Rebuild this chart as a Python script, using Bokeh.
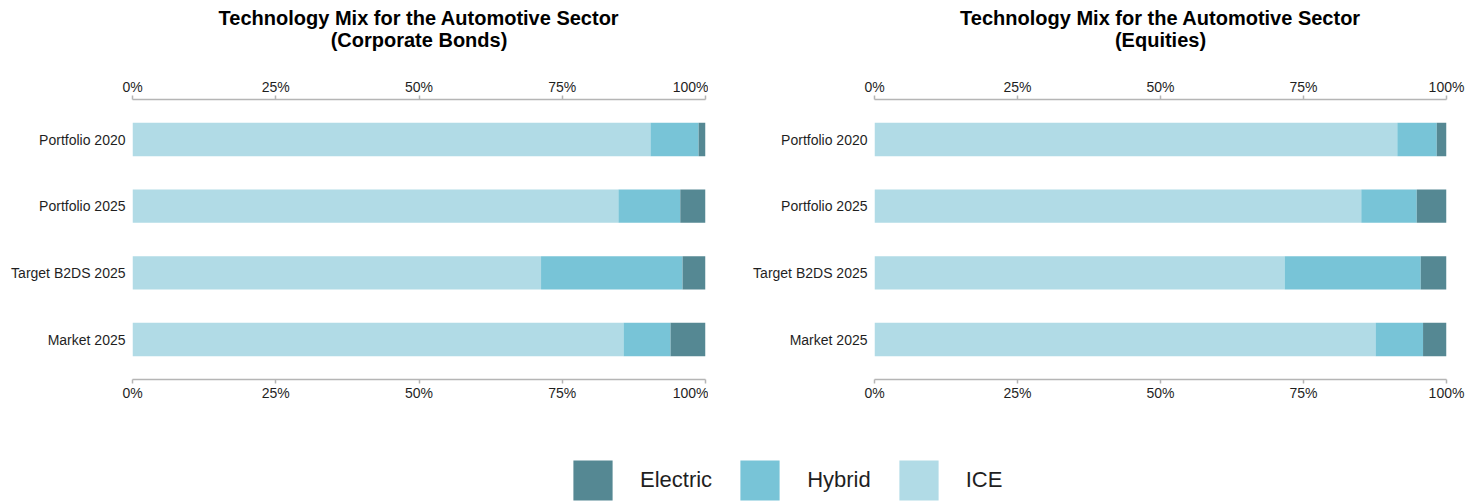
from bokeh.plotting import figure
from bokeh.models import (Range1d, FixedTicker, PrintfTickFormatter, LinearAxis,
                          Legend, LegendItem, ColumnDataSource, Label)
from bokeh.layouts import column, row
from bokeh.embed import file_html
from bokeh.resources import INLINE

# ---------------- data ----------------
categories = ["Portfolio 2020", "Portfolio 2025", "Target B2DS 2025", "Market 2025"]
technologies = ["ICE", "Hybrid", "Electric"]
legend_order = ["Electric", "Hybrid", "ICE"]
x_ticks = [0, 25, 50, 75, 100]

bonds_ice = [90.4, 84.8, 71.3, 85.7]
bonds_hybrid = [8.4, 10.8, 24.7, 8.2]
bonds_electric = [1.2, 4.4, 4.0, 6.1]

equity_ice = [91.4, 85.1, 71.7, 87.6]
equity_hybrid = [6.9, 9.7, 23.8, 8.3]
equity_electric = [1.7, 5.2, 4.5, 4.1]

main_title = "Technology Mix for the Automotive Sector"
subtitles = ["(Corporate Bonds)", "(Equities)"]

colors = {"ICE": "#b1dbe6", "Hybrid": "#78c4d7", "Electric": "#558893"}

FONT = "Liberation Sans"
TEXT = "#1f1f1f"
AXIS = "#b5b5b5"
TOTAL_W = 1473
TITLE_H = 70


def style_x_axis(ax):
    ax.ticker = FixedTicker(ticks=x_ticks)
    ax.formatter = PrintfTickFormatter(format="%d%%")
    ax.axis_line_color = AXIS
    ax.axis_line_width = 1.5
    ax.major_tick_line_color = AXIS
    ax.major_tick_line_width = 1.5
    ax.major_tick_out = 4
    ax.major_tick_in = 0
    ax.minor_tick_line_color = None
    ax.major_label_text_font = FONT
    ax.major_label_text_font_size = "14px"
    ax.major_label_text_color = TEXT
    ax.major_label_standoff = 1


def make_fig(ice, hybrid, electric, width, bl, br):
    src = ColumnDataSource(dict(y=list(range(len(categories))), cat=categories,
                                ICE=ice, Hybrid=hybrid, Electric=electric))
    p = figure(width=width, height=430 - TITLE_H, output_backend="svg", toolbar_location=None,
               x_range=Range1d(0, 100), y_range=Range1d(3.6, -0.6),
               x_axis_location="above",
               min_border_left=bl, min_border_right=br,
               min_border_top=99 - TITLE_H, min_border_bottom=51)
    p.hbar_stack(technologies, y="y", height=0.5, source=src,
                 color=[colors[t] for t in technologies], line_width=0)
    p.add_layout(LinearAxis(), "below")
    for ax in p.xaxis:
        style_x_axis(ax)
    ya = p.yaxis[0]
    ya.ticker = FixedTicker(ticks=list(range(len(categories))))
    ya.major_label_overrides = {i: c for i, c in enumerate(categories)}
    ya.axis_line_color = None
    ya.major_tick_line_color = None
    ya.minor_tick_line_color = None
    ya.major_tick_out = 0
    ya.major_tick_in = 0
    ya.major_label_standoff = 7
    ya.major_label_text_font = FONT
    ya.major_label_text_font_size = "14px"
    ya.major_label_text_color = TEXT
    p.grid.visible = False
    p.outline_line_color = None
    return p


f1 = make_fig(bonds_ice, bonds_hybrid, bonds_electric, 708, 132, 3)
f2 = make_fig(equity_ice, equity_hybrid, equity_electric, 765, 166, 27)

# title strip (pixel-space ranges)
tf = figure(width=TOTAL_W, height=TITLE_H, output_backend="svg", toolbar_location=None,
            x_range=Range1d(0, TOTAL_W), y_range=Range1d(TITLE_H, 0),
            x_axis_location=None, y_axis_location=None, min_border=0)
tf.grid.visible = False
tf.outline_line_color = None
for xc, sub in zip([418.5, 1160], subtitles):
    for txt, yc in [(main_title, 17), (sub, 39)]:
        tf.add_layout(Label(x=xc, y=yc, text=txt, text_align="center",
                            text_baseline="middle", text_font=FONT,
                            text_font_size="20px", text_font_style="bold",
                            text_color="#000000"))

# legend strip
lf = figure(width=TOTAL_W, height=71, output_backend="svg", toolbar_location=None,
            x_range=Range1d(0, 1), y_range=Range1d(0, 1),
            x_axis_location=None, y_axis_location=None, min_border=0)
lf.grid.visible = False
lf.outline_line_color = None
items = []
for t in legend_order:
    r = lf.hbar(y=[0.5], left=[0], right=[0], height=0.5, color=colors[t], line_width=0)
    items.append(LegendItem(label=t, renderers=[r]))
leg = Legend(items=items, orientation="horizontal", location=(568, -4),
             glyph_width=49, glyph_height=50, label_standoff=23, spacing=23,
             padding=0, margin=0, border_line_color=None, background_fill_alpha=0,
             label_text_font=FONT, label_text_font_size="22px",
             label_text_color=TEXT)
lf.add_layout(leg, "center")

layout = column(tf, row(f1, f2), lf)
open("out.html", "w").write(file_html(layout, INLINE))
